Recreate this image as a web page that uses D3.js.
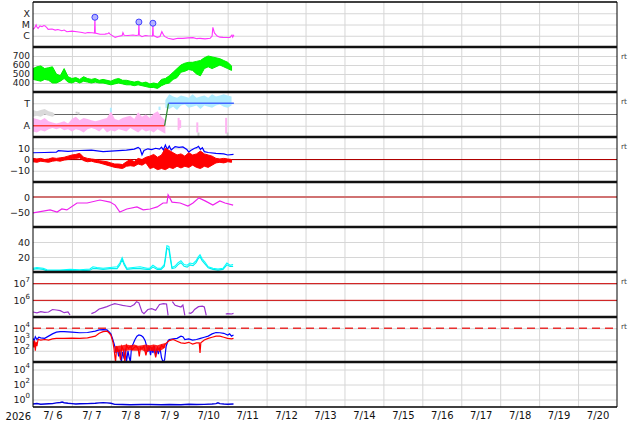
<!DOCTYPE html>
<html><head><meta charset="utf-8">
<script src="https://cdn.jsdelivr.net/npm/d3@7"></script>
<style>html,body{margin:0;padding:0;background:#fff;}svg{display:block;}text{white-space:pre;}</style>
</head><body>
<svg id="c" width="634" height="424"></svg>
<script>
// ---------- DATA (time in days from 7/6 00:00) ----------
const dayLabels = ["7/ 6","7/ 7","7/ 8","7/ 9","7/10","7/11","7/12","7/13","7/14","7/15","7/16","7/17","7/18","7/19","7/20"];
const yearLabel = "2026";

// Panel 1: X-ray flux (W/m2)
const xrT = [0,0.04,0.08,0.1,0.13,0.18,0.23,0.28,0.31,0.36,0.39,0.49,0.57,0.64,0.74,0.8,0.87,1.0,1.13,1.26,1.34,1.41,1.52,1.58,1.59,1.6,1.72,1.85,1.93,1.95,1.98,2.11,2.18,2.29,2.31,2.34,2.44,2.57,2.65,2.71,2.72,2.73,2.8,2.88,2.95,3.07,3.08,3.09,3.19,3.26,3.31,3.36,3.39,3.47,3.6,3.72,3.85,3.98,4.11,4.21,4.29,4.42,4.55,4.6,4.62,4.66,4.73,4.8,4.88,5.01,5.06,5.11,5.13,5.16];
const xrV = [3.7e-6,4.9e-6,9.1e-6,6.0e-6,4.6e-6,7.4e-6,6.3e-6,8.1e-6,7.4e-6,4.9e-6,3.7e-6,4.0e-6,3.2e-6,3.6e-6,2.8e-6,3.2e-6,2.3e-6,2.6e-6,2.3e-6,1.95e-6,1.66e-6,1.95e-6,1.86e-6,1.74e-6,4.4e-5,1.74e-6,1.35e-6,1.4e-6,1.6e-6,1.86e-6,1.4e-6,7.2e-7,8.5e-7,1.05e-6,1.86e-6,1.1e-6,1.05e-6,1.17e-6,1.05e-6,1.17e-6,1.66e-5,1.17e-6,8.3e-7,1.05e-6,1.0e-6,9.5e-7,1.3e-5,1.05e-6,7.2e-7,8.5e-7,2.3e-6,1.05e-6,8.3e-7,6.0e-7,4.8e-7,6.0e-7,5.9e-7,6.5e-7,6.8e-7,5.5e-7,5.9e-7,5.3e-7,5.9e-7,9.5e-7,5.6e-6,1.8e-6,9.5e-7,7.5e-7,7.2e-7,7.0e-7,7.2e-7,1.17e-6,7.5e-7,1.2e-6];
const flareT = [1.59,2.72,3.08];
const flareV = [4.4e-5,1.66e-5,1.3e-5];
const xrTicks = [1e-4,1e-5,1e-6], xrTickLabels = ["X","M","C"];

// Panel 2: solar wind speed (km/s), band per 0.1 day
const swLo = [440,430,420,440,430,400,400,420,450,410,400,420,400,420,410,400,410,400,400,390,380,390,400,390,380,380,370,380,370,360,350,350,340,370,390,400,440,460,520,530,550,540,500,480,560,580,560,580,600,580,560,540];
const swHi = [560,580,590,560,570,580,500,480,560,470,450,460,440,470,450,440,450,430,440,430,420,440,450,430,430,420,410,420,400,410,390,400,390,440,450,480,520,560,600,620,630,630,640,650,680,700,690,680,670,650,630,590];
const swTicks = [700,600,500,400];

// Panel 3: IMF sector (T = toward, A = away)
const pinkLo = [-1.5,-1.6,-1.4,-1.5,-1.3,-1.2,-1.3,-1.2,-1.4,-1.3,-1.5,-1.3,-1.4,-1.6,-1.3,-1.2,-1.3,-1.5,-1.2,-1.6,-1.4,-1.5,-1.3,-1.4,-1.5,-1.2,-1.4,-1.6,-1.3,-1.5,-1.4,-1.6,-1.3,-1.5,-1.7];
const pinkHi = [-0.3,-0.4,-0.5,-0.3,-0.6,-0.7,-0.8,-0.7,-0.6,-0.8,-0.4,-0.2,-0.5,-0.3,-0.4,-0.5,-0.6,-0.5,-0.4,-0.3,0.3,-0.4,-0.5,-0.3,-0.2,-0.1,-0.4,0.2,-0.2,0.0,-0.3,0.1,0.3,-0.2,-0.5];
const tbLo = [0.6,0.5,0.7,0.4,0.8,0.9,0.6,0.7,0.8,0.5,0.8,0.7,0.6,0.8,0.9,0.7,0.6,0.8];
const tbHi = [1.3,1.8,1.6,1.5,1.7,1.6,1.5,1.8,1.5,1.6,1.7,1.5,1.8,1.6,1.7,1.8,1.7,1.6];
const grayT = [0,0.1,0.2,0.3,0.4,0.5,0.55];
const grayLo = [-0.2,-0.1,-0.2,0.0,-0.1,-0.2,-0.1];
const grayHi = [0.4,0.3,0.4,0.5,0.3,0.2,0.1];
const scT = [1.12,1.17,3.74,3.78,4.22,4.25,4.96,5.0,2.0,3.25];
const scLo = [0.1,0.0,-1.4,-1.2,-1.6,-1.9,-1.7,-2.0,0.2,0.4];
const scHi = [0.25,0.2,-0.3,-0.5,-0.7,-1.6,-0.3,-1.6,0.6,0.7];
const scCat = ["g","g","p","p","p","g","p","g","b","b"];
const secT = [0,3.38,3.48,5.16];
const secV = [-1,-1,1,1];
const secTicks = [1,-1], secTickLabels = ["T","A"];

// Panel 4: IMF Bt and Bz (nT)
const btT = [0,0.3,0.6,0.65,0.9,1.2,1.5,1.8,2.1,2.4,2.6,2.7,2.75,2.8,2.85,2.95,3.05,3.15,3.25,3.3,3.35,3.4,3.45,3.5,3.55,3.65,3.75,3.85,3.95,4.0,4.05,4.15,4.2,4.25,4.3,4.35,4.4,4.5,4.7,4.9,5.0,5.15];
const btV = [6,6.2,6.5,7.8,7.2,8.0,8.3,7.0,7.6,8.4,9.2,10.8,9.5,4.2,8.0,9.5,8.8,10,9.2,11,8.5,12.9,9.0,12,8.5,11.5,10.8,11.2,9.0,6.5,8.0,10.0,10.5,11.7,9.0,10.5,7.0,6.2,5.5,5.0,4.0,4.5];
const bzLo = [-2,-2.5,-1.5,-2,-2.5,-1.5,-1,-1.5,-0.5,0,1,1,1.5,-1,-2,-1.5,-2.5,-3,-4,-5,-6,-7,-7.5,-8,-6,-5.5,-6,-4,-5,-3,-8,-7,-9,-8,-9,-7,-8,-6,-7.5,-6,-7,-5,-7,-8,-6,-7,-5,-3,-2.5,-3,-2,-2.5];
const bzHi = [1,0.5,1,0,0.5,1.5,1,1.5,2,3,4,4.5,5.5,2,1,0.5,0,-1,-1.5,-2,-3,-4,-4,-4.5,-2,0,-2,1,0,2,3,4.5,2,4,10,8,6,4,5,3,6,4,5,7.5,5,4,3,1,0.5,1,0.5,0];
const imfTicks = [10,0,-10];

// Panel 5: Dst (nT)
const dstT = [0,0.44,0.62,0.74,0.87,1.13,1.39,1.72,1.98,2.11,2.23,2.41,2.67,2.83,3.01,3.19,3.34,3.44,3.47,3.57,3.78,3.98,4.11,4.26,4.42,4.62,4.80,4.93,5.14];
const dstV = [-53,-43,-50,-40,-43,-20,-20,-10,-17,-27,-50,-40,-33,-43,-40,-33,-20,-20,7,-17,-20,-30,-20,-3,-13,-27,-13,-20,-27];
const dstTicks = [0,-50];

// Panel 6: two cyan series
const cyT = [0,0.1,0.26,0.36,0.69,0.95,1.2,1.46,1.54,1.64,1.8,1.98,2.16,2.23,2.29,2.34,2.41,2.57,2.75,2.93,3.0,3.08,3.19,3.29,3.37,3.4,3.44,3.49,3.53,3.57,3.65,3.72,3.8,3.88,3.96,4.03,4.11,4.19,4.24,4.29,4.34,4.42,4.5,4.62,4.75,4.88,4.98,5.06,5.14];
const cyA = [5,6,5,3,2.5,3.5,3,4,7,6,5,6,7,12,19,12,5,6,7,5,5,9,5,5,10,20,35,34,20,6,8,12,15,10,9,12,11,15,20,23,18,13,7,5,4,5,12,9,10];
const cyB = [3.5,4.5,3.5,1.5,1.5,2,1.5,2.5,4.5,4.5,3.5,4.5,4.5,9.5,16.5,9.5,3.5,4.5,4.5,3.5,3.5,6.5,3.5,3.5,7.5,16.5,32,30,16.5,4.5,5.5,9.5,12.5,7.5,6.5,9.5,8.5,12.5,17.5,20.5,15.5,10.5,5.5,3.5,2.5,3.5,9.5,7.5,7.5];
const p6Ticks = [40,20];

// Panel 7: purple series (log10 of value), null = no data
const puT = [0,0.1,0.2,0.3,0.4,0.5,0.6,0.7,0.8,0.9,0.95,1.0,1.5,1.6,1.7,1.8,1.9,2.0,2.1,2.2,2.3,2.4,2.5,2.6,2.66,2.72,2.8,2.85,2.95,3.05,3.15,3.25,3.35,3.43,3.47,3.5,3.58,3.65,3.72,3.8,3.85,3.9,3.95,4.0,4.05,4.1,4.15,4.25,4.35,4.4,4.45,4.5,4.95,5.0,5.1,5.15];
const puLog = [5.3,5.25,5.32,5.28,5.3,5.45,5.42,5.38,5.26,5.3,5.12,null,5.2,5.3,5.48,5.55,5.62,5.72,5.8,5.75,5.7,5.66,5.62,5.75,5.92,5.85,5.3,5.2,5.45,5.5,5.4,5.75,5.8,5.78,5.1,null,5.92,5.7,5.65,5.6,5.72,5.1,null,5.25,5.22,5.3,5.45,5.62,5.65,5.6,5.1,null,5.18,5.2,5.18,5.22];
const p7Ticks = [1e7,1e6];

// Panel 8: electron flux blue / red (log10)
const ebT = [0,0.03,0.06,0.1,0.15,0.2,0.3,0.4,0.5,0.6,0.7,0.8,1.0,1.2,1.4,1.6,1.7,1.8,1.9,1.95,2.0,2.05,2.1,2.13,2.16,2.2,2.23,2.27,2.3,2.34,2.37,2.4,2.44,2.47,2.5,2.53,2.57,2.62,2.67,2.72,2.78,2.83,2.88,2.92,2.95,2.98,3.02,3.05,3.08,3.12,3.15,3.18,3.22,3.26,3.3,3.34,3.38,3.42,3.47,3.5,3.6,3.7,3.8,3.85,3.9,4.0,4.1,4.2,4.3,4.4,4.5,4.6,4.7,4.8,4.9,5.0,5.05,5.1,5.15];
const ebLog = [3.1,2.9,3.25,3.0,3.2,3.15,3.1,3.3,3.5,3.65,3.7,3.7,3.65,3.6,3.62,3.75,3.85,3.88,3.85,3.7,3.5,3.0,2.4,1.8,2.3,1.5,2.1,1.0,1.9,1.3,2.2,1.0,2.0,1.4,1.0,2.3,2.6,3.0,3.3,3.4,3.35,3.2,2.9,2.4,1.9,2.4,1.6,2.3,1.8,2.4,1.5,2.2,1.7,2.3,1.4,1.0,1.2,2.4,2.9,3.0,3.05,3.1,3.3,3.25,3.0,3.05,2.95,3.0,3.1,3.2,3.3,3.5,3.62,3.6,3.55,3.4,3.5,3.3,3.4];
const erT = [0,0.02,0.04,0.06,0.08,0.1,0.13,0.2,0.3,0.4,0.5,0.6,0.8,1.0,1.2,1.4,1.6,1.7,1.8,1.9,1.95,2.0,2.05,2.08,2.12,2.15,2.2,2.25,2.28,2.32,2.36,2.4,2.45,2.5,2.55,2.6,2.65,2.7,2.73,2.76,2.8,2.85,2.9,2.95,3.0,3.05,3.1,3.15,3.2,3.25,3.3,3.35,3.4,3.5,3.6,3.7,3.8,3.9,4.0,4.1,4.2,4.27,4.29,4.31,4.4,4.5,4.6,4.7,4.8,4.9,5.0,5.1,5.15];
const erLog = [2.9,2.3,2.9,2.0,2.8,2.4,3.0,2.95,3.0,2.95,3.05,3.1,3.1,3.12,3.1,3.15,3.3,3.55,3.7,3.75,3.6,3.4,2.8,2.2,1.0,2.3,2.0,1.2,2.4,2.1,1.0,2.5,2.2,2.4,2.1,2.3,2.4,2.2,1.5,2.3,2.2,2.4,1.6,2.3,2.4,2.1,2.4,1.4,2.3,2.0,2.5,2.3,2.6,2.9,3.0,2.85,2.7,2.65,2.75,2.6,2.7,2.7,1.8,2.7,2.95,3.1,3.2,3.3,3.3,3.2,3.1,3.05,3.1];
const erBandT = [2.1,2.2,2.3,2.4,2.5,2.6,2.7,2.8,2.9,3.0,3.1,3.2,3.3,3.4];
const erBandLo = [1.9,1.9,2.0,2.0,2.05,2.0,2.0,2.05,1.9,2.0,1.95,2.0,2.05,2.3];
const erBandHi = [2.4,2.45,2.5,2.55,2.5,2.55,2.45,2.5,2.55,2.5,2.55,2.5,2.6,2.7];
const p8Ticks = [1e4,1e3,1e2];

// Panel 9: blue series (log10)
const p9T = [0,0.1,0.2,0.3,0.4,0.5,0.6,0.7,0.75,0.8,0.9,1.0,1.1,1.2,1.4,1.6,1.7,1.8,1.9,2.0,2.1,2.3,2.5,2.8,3.0,3.3,3.5,3.8,4.0,4.2,4.4,4.6,4.7,4.75,4.8,4.9,5.0,5.15];
const p9Log = [-0.6,-0.55,-0.62,-0.6,-0.58,-0.55,-0.45,-0.4,-0.35,-0.42,-0.5,-0.55,-0.6,-0.58,-0.55,-0.5,-0.45,-0.42,-0.45,-0.5,-0.65,-0.68,-0.7,-0.66,-0.68,-0.7,-0.68,-0.7,-0.65,-0.67,-0.65,-0.6,-0.55,-0.45,-0.55,-0.6,-0.62,-0.6];
const p9Ticks = [1e4,1e2,1e0];

const rtPanels = [1,2,3,6,7];

// ---------- LAYOUT ----------
const svg = d3.select("#c");
const L = 33, R = 617, TOP = 2, PH = 45, NP = 9, BOT = TOP + PH*NP;
const FONT = "DejaVu Sans";
const YFS = 9.5;
const x = d3.scaleLinear().domain([0,15]).range([L,R]);
const pTop = d3.range(NP).map(i => TOP + i*PH);
const lin = (i,dom) => d3.scaleLinear().domain(dom).range([pTop[i]+PH, pTop[i]]);
const lg = (i,dom) => d3.scaleLog().domain(dom).range([pTop[i]+PH, pTop[i]]).clamp(true);
const y1 = lg(0,[1e-7,1e-3]), y2 = lin(1,[300,800]), y3 = lin(2,[-2,2]), y4 = lin(3,[-20,20]);
const y5 = lin(4,[-100,50]), y6 = lin(5,[0,60]), y7 = lg(6,[1e5,Math.pow(10,7.7)]);
const y8 = lg(7,[1e1,1e5]), y9 = lg(8,[1e-1,1e5]);

svg.append("rect").attr("width",634).attr("height",424).attr("fill","#fff");

// vertical day grid
svg.append("g").attr("transform",`translate(0,${BOT})`)
  .call(d3.axisBottom(x).tickValues(d3.range(1,15)).tickSize(-(BOT-TOP)).tickFormat(""))
  .call(g => { g.select(".domain").remove(); g.selectAll("line").attr("stroke","#d6d6d6"); });

// y axes with gridlines
function yAxis(scale, ticks, fmt, sup, fs){
  const g = svg.append("g").attr("transform",`translate(${L},0)`)
    .call(d3.axisLeft(scale).tickValues(ticks).tickSize(-(R-L)).tickPadding(3).tickFormat(sup ? () => "" : fmt));
  g.select(".domain").remove();
  g.selectAll("line").attr("stroke","#d6d6d6");
  g.selectAll("text").attr("font-family",FONT).attr("font-size",fs || YFS).attr("fill","#222");
  if (sup) {
    g.selectAll(".tick text").each(function(d){
      const t = d3.select(this);
      t.append("tspan").text("10");
      t.append("tspan").attr("dy",-5).attr("font-size",7).text(Math.round(Math.log10(d)));
    });
  }
  return g;
}
yAxis(y1, xrTicks, (d,i) => xrTickLabels[i]);
yAxis(y2, swTicks, d => d, false, 9);
yAxis(y3, secTicks, (d,i) => secTickLabels[i]);
yAxis(y4, imfTicks, d => String(d).replace("-","\u2212"));
yAxis(y5, dstTicks, d => String(d).replace("-","\u2212"));
yAxis(y6, p6Ticks, d => d);
yAxis(y7, p7Ticks, null, true);
yAxis(y8, p8Ticks, null, true);
yAxis(y9, p9Ticks, null, true);

// reference lines
const ref = svg.append("g");
ref.append("line").attr("x1",L).attr("x2",R).attr("y1",y3(0)).attr("y2",y3(0)).attr("stroke","#666");
ref.append("line").attr("x1",L).attr("x2",R).attr("y1",y4(0)).attr("y2",y4(0)).attr("stroke","#b00000");
ref.append("line").attr("x1",L).attr("x2",R).attr("y1",y5(0)).attr("y2",y5(0)).attr("stroke","#d07272").attr("stroke-width",2);
[1e7,1e6].forEach(v => ref.append("line").attr("x1",L).attr("x2",R).attr("y1",y7(v)).attr("y2",y7(v)).attr("stroke","#cc0000"));
ref.append("line").attr("x1",L).attr("x2",R).attr("y1",y8(1e4)).attr("y2",y8(1e4)).attr("stroke","#e83030").attr("stroke-width",1.5).attr("stroke-dasharray","8,5");

// clip paths
const defs = svg.append("defs");
pTop.forEach((t,i) => defs.append("clipPath").attr("id","cp"+i).append("rect").attr("x",L).attr("y",t).attr("width",R-L).attr("height",PH));
const pg = i => svg.append("g").attr("clip-path",`url(#cp${i})`);

const line = (xs, ys, sc) => d3.line().defined((d,i) => ys[i] != null).x((d,i) => x(xs[i])).y((d,i) => sc(ys[i]))(xs);
const band = (xs, lo, hi, sc) => d3.area().x((d,i) => x(xs[i])).y0((d,i) => sc(lo[i])).y1((d,i) => sc(hi[i]))(xs);
const T10 = n => d3.range(n).map(i => i/10);

// Panel 1
const g1 = pg(0);
g1.append("path").attr("d", line(xrT, xrV, y1)).attr("fill","none").attr("stroke","#ff33ff").attr("stroke-width",1.1);
svg.append("g").selectAll("circle").data(flareT).join("circle")
  .attr("cx",(d,i)=>x(d)).attr("cy",(d,i)=>y1(flareV[i])).attr("r",3)
  .attr("fill","#b4b4ff").attr("stroke","#4040ff").attr("stroke-width",1);

// Panel 2
const g2 = pg(1);
const swT = T10(swLo.length);
g2.append("path").attr("d", band(swT, swLo, swHi, y2)).attr("fill","#00ff00").attr("stroke","#00ee00").attr("stroke-width",1);

// Panel 3
const g3 = pg(2);
const pinkT = T10(pinkLo.length);
const tbT = tbLo.map((d,i) => 3.4 + i/10);
g3.append("path").attr("d", band(grayT, grayLo, grayHi, y3)).attr("fill","#dadada");
g3.append("path").attr("d", band(pinkT, pinkLo, pinkHi, y3)).attr("fill","#ffb4f2");
g3.append("path").attr("d", band(tbT, tbLo, tbHi, y3)).attr("fill","#b0ecff");
const scCol = {g:"#cccccc", p:"#ffb4f2", b:"#b0ecff"};
g3.selectAll("line.sc").data(scT).join("line").attr("class","sc")
  .attr("x1",d=>x(d)).attr("x2",d=>x(d)).attr("y1",(d,i)=>y3(scLo[i])).attr("y2",(d,i)=>y3(scHi[i]))
  .attr("stroke",(d,i)=>scCol[scCat[i]]).attr("stroke-width",2);
const secCol = ["#ff4040","#2e8b2e","#4466ff"];
for (let i=0;i<secT.length-1;i++)
  g3.append("line").attr("x1",x(secT[i])).attr("x2",x(secT[i+1])).attr("y1",y3(secV[i])).attr("y2",y3(secV[i+1])).attr("stroke",secCol[i]).attr("stroke-width",1.3);

// Panel 4
const g4 = pg(3);
g4.append("path").attr("d", line(btT, btV, y4)).attr("fill","none").attr("stroke","#0000ff").attr("stroke-width",1.2);
const bzT = T10(bzLo.length);
g4.append("path").attr("d", band(bzT, bzLo, bzHi, y4)).attr("fill","#ff0000").attr("stroke","#ff0000").attr("stroke-width",1);

// Panel 5
const g5 = pg(4);
g5.append("path").attr("d", line(dstT, dstV, y5)).attr("fill","none").attr("stroke","#ee22ee").attr("stroke-width",1.2);

// Panel 6
const g6 = pg(5);
g6.append("path").attr("d", line(cyT, cyA, y6)).attr("fill","none").attr("stroke","#00ffff").attr("stroke-width",1.1);
g6.append("path").attr("d", line(cyT, cyB, y6)).attr("fill","none").attr("stroke","#00eeee").attr("stroke-width",1.1);

// Panel 7
const g7 = pg(6);
const puV = puLog.map(v => v == null ? null : Math.pow(10, v));
g7.append("path").attr("d", line(puT, puV, y7)).attr("fill","none").attr("stroke","#9933cc").attr("stroke-width",1.2);

// Panel 8
const g8 = pg(7);
const p10 = a => a.map(v => Math.pow(10, v));
g8.append("path").attr("d", line(ebT, p10(ebLog), y8)).attr("fill","none").attr("stroke","#0000ff").attr("stroke-width",1.2);
g8.append("path").attr("d", band(erBandT, p10(erBandLo), p10(erBandHi), y8)).attr("fill","#ff0000").attr("fill-opacity",0.85);
g8.append("path").attr("d", line(erT, p10(erLog), y8)).attr("fill","none").attr("stroke","#ff0000").attr("stroke-width",1.2);

// Panel 9
const g9 = pg(8);
g9.append("path").attr("d", line(p9T, p10(p9Log), y9)).attr("fill","none").attr("stroke","#0000dd").attr("stroke-width",1.5);

// borders
const bd = svg.append("g");
bd.append("line").attr("x1",L).attr("x2",L).attr("y1",TOP).attr("y2",BOT).attr("stroke","#000");
bd.append("line").attr("x1",R).attr("x2",R).attr("y1",TOP).attr("y2",BOT).attr("stroke","#000");
bd.append("line").attr("x1",L).attr("x2",R).attr("y1",TOP).attr("y2",TOP).attr("stroke","#000").attr("stroke-width",1.5);
bd.append("line").attr("x1",L).attr("x2",R).attr("y1",BOT).attr("y2",BOT).attr("stroke","#000").attr("stroke-width",1.5);
pTop.slice(1).forEach(t => bd.append("line").attr("x1",L).attr("x2",R).attr("y1",t).attr("y2",t).attr("stroke","#111").attr("stroke-width",2.5));

// rt labels
rtPanels.forEach(i => svg.append("text").attr("x",621).attr("y",pTop[i]+12).attr("font-family",FONT).attr("font-size",7.5).attr("fill","#444").text("rt"));

// bottom axis labels
svg.append("g").attr("transform",`translate(0,${BOT})`)
  .call(d3.axisBottom(x).tickValues(dayLabels.map((d,i)=>i+0.5)).tickSize(0).tickPadding(5).tickFormat((d,i)=>dayLabels[i]))
  .call(g => { g.select(".domain").remove(); g.selectAll("text").attr("font-family",FONT).attr("font-size",10).attr("fill","#111"); });
svg.append("text").attr("x",31).attr("y",BOT+13).attr("text-anchor","end").attr("font-family",FONT).attr("font-size",10).attr("fill","#111").text(yearLabel);
</script>
</body></html>
